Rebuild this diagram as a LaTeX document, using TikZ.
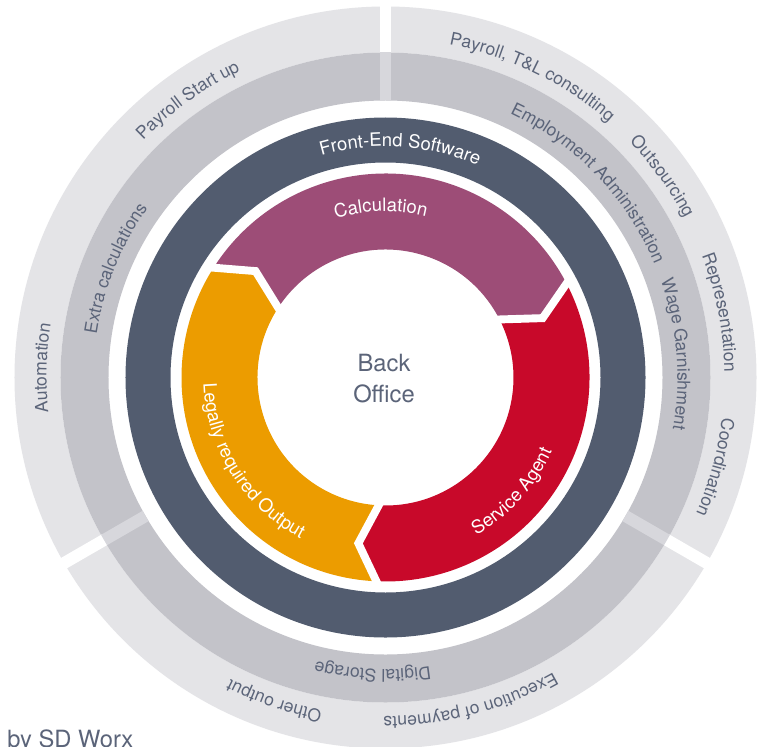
\documentclass[tikz,border=0pt]{standalone}
\usepackage{fontspec}
\setmainfont{TeX Gyre Heros}
\usetikzlibrary{decorations.text}
\definecolor{ringLight}{RGB}{228,228,231}
\definecolor{ringMid}{RGB}{195,195,201}
\definecolor{ringPale}{RGB}{215,215,220}
\definecolor{ringDark}{RGB}{82,92,111}
\definecolor{segPurple}{RGB}{157,77,119}
\definecolor{segRed}{RGB}{200,9,42}
\definecolor{segOrange}{RGB}{236,156,0}
\definecolor{labelGray}{RGB}{91,100,121}

\begin{document}
\begin{tikzpicture}[scale=0.02,
  bandlabel/.style={decorate, decoration={text along path, text align=center,
      text color=labelGray, text={|\fontsize{10pt}{12pt}\selectfont|#1}}},
  corelabel/.style={decorate, decoration={text along path, text align=center,
      text color=white, text={|\fontsize{10.5pt}{12pt}\selectfont|#1}}},
  gapstrip/.style={line width=6.8pt},
  cutline/.style={white, line width=4.5pt, line join=miter}
]
  \fill[white] (-385.5,-368.5) rectangle (379.5,377.5);
  \useasboundingbox (-385.5,-368.5) rectangle (379.5,377.5);

  % Outer service rings
  \fill[ringLight, even odd rule] (0,0) circle (371) (0,0) circle (325);
  \fill[ringMid, even odd rule] (0,0) circle (325) (0,0) circle (277);
  \foreach \a in {90,210,330} {
    \draw[white, gapstrip] (\a:324) -- (\a:373);
    \draw[ringPale, gapstrip] (\a:277) -- (\a:325);
  }

  % Front-end ring
  \fill[ringDark, even odd rule] (0,0) circle (260) (0,0) circle (215);

  % Back office cycle
  \fill[segPurple] (148.3:204) arc[start angle=148.3, end angle=28.3, radius=204]
    -- (20.7:168) -- (28.3:128) arc[start angle=28.3, end angle=148.3, radius=128]
    -- (140.7:168) -- cycle;
  \fill[segRed] (28.3:204) arc[start angle=28.3, end angle=-91.7, radius=204]
    -- (-99.3:168) -- (-91.7:128) arc[start angle=-91.7, end angle=28.3, radius=128]
    -- (20.7:168) -- cycle;
  \fill[segOrange] (268.3:204) arc[start angle=268.3, end angle=148.3, radius=204]
    -- (140.7:168) -- (148.3:128) arc[start angle=148.3, end angle=268.3, radius=128]
    -- (260.7:168) -- cycle;
  \foreach \a in {28.3,148.3,268.3}
    \draw[cutline] (\a:210) -- ({\a-7.6}:168) -- (\a:122);

  % Labels, outer band
  \path[bandlabel={Payroll Start up}] (170.5:339) arc[start angle=170.5, end angle=80.5, radius=339];
  \path[bandlabel={Automation}] (223.4:339) arc[start angle=223.4, end angle=133.4, radius=339];
  \path[bandlabel={Payroll, T{\&}L consulting}] (109:339) arc[start angle=109, end angle=19, radius=339];
  \path[bandlabel={Outsourcing}] (81:339) arc[start angle=81, end angle=-9, radius=339];
  \path[bandlabel={Representation}] (56:339) arc[start angle=56, end angle=-34, radius=339];
  \path[bandlabel={Coordination}] (29.8:339) arc[start angle=29.8, end angle=-60.2, radius=339];
  \path[bandlabel={Execution of payments}] (329.7:339) arc[start angle=329.7, end angle=239.7, radius=339];
  \path[bandlabel={Other output}] (296:339) arc[start angle=296, end angle=206, radius=339];

  % Labels, middle band
  \path[bandlabel={Extra calculations}] (208:292) arc[start angle=208, end angle=108, radius=292];
  \path[bandlabel={Employment Administration}] (93.8:292) arc[start angle=93.8, end angle=-6.2, radius=292];
  \path[bandlabel={Wage Garnishment}] (54.6:292) arc[start angle=54.6, end angle=-45.4, radius=292];
  \path[bandlabel={Digital Storage}] (317.5:292) arc[start angle=317.5, end angle=217.5, radius=292];

  % Labels, inner rings
  \path[corelabel={Front-End Software}] (136.3:231) arc[start angle=136.3, end angle=36.3, radius=231];
  \path[corelabel={Calculation}] (131.6:166) arc[start angle=131.6, end angle=51.6, radius=166];
  \path[corelabel={Service Agent}] (-87:182) arc[start angle=-87, end angle=3, radius=182];
  \path[corelabel={Legally required Output}] (167:182) arc[start angle=167, end angle=257, radius=182];

  \node[font=\fontsize{13.5pt}{17.6pt}\selectfont, text=labelGray, align=center,
        inner sep=0] (backoffice) at (-1.5,-1.5) {Back\\Office};
  \node[font=\fontsize{13.5pt}{16pt}\selectfont, text=labelGray, anchor=base west,
        inner sep=0] (credit) at (-378.5,-369.5) {by SD Worx};
\end{tikzpicture}
\end{document}
